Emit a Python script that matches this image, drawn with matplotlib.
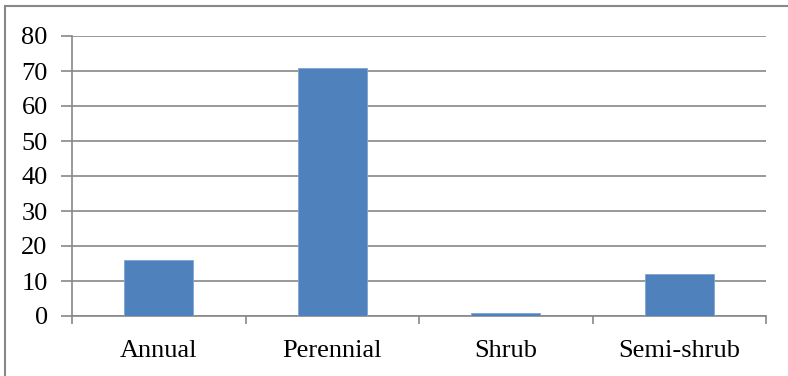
import numpy as np
import matplotlib.pyplot as plt
from matplotlib.patches import Rectangle

categories = ['Annual', 'Perennial', 'Shrub', 'Semi-shrub']
values = [16, 71, 1, 12]
y_ticks = [0, 10, 20, 30, 40, 50, 60, 70, 80]

line_color = '#888888'
bar_color = '#4F81BD'

plt.rcParams['font.family'] = ['Liberation Serif', 'DejaVu Serif']

fig = plt.figure(figsize=(7.88, 3.76), dpi=100)
ax = fig.add_axes([72 / 788, 60 / 376, 694 / 788, 280 / 376])

# chart area border (only top and left visible in the crop)
fig.patches.append(Rectangle((5 / 788, -0.5), 2.0, 0.5 + 370 / 376,
                             transform=fig.transFigure, fill=False,
                             edgecolor=line_color, linewidth=1.5))

x = np.arange(len(categories))
ax.bar(x, values, width=0.4, color=bar_color, edgecolor='#7FA3D3',
       linewidth=0.6, zorder=3)

ax.set_xlim(-0.5, len(categories) - 0.5)
ax.set_ylim(0, 80)
ax.set_yticks(y_ticks)
ax.set_yticklabels([str(v) for v in y_ticks])
ax.yaxis.grid(True, color=line_color, linewidth=1.2, zorder=0)

ax.set_xticks(np.arange(len(categories) + 1) - 0.5)
ax.set_xticklabels([])
ax.set_xticks(x, minor=True)
ax.set_xticklabels(categories, minor=True)
ax.tick_params(axis='x', which='minor', length=0, pad=17, labelsize=19)
ax.tick_params(axis='x', which='major', length=6, width=1.2,
               color=line_color, direction='out')
ax.tick_params(axis='y', length=8, width=1.2, color=line_color, pad=9.5,
               labelsize=19)

for side in ['top', 'right']:
    ax.spines[side].set_visible(False)
for side in ['left', 'bottom']:
    ax.spines[side].set_color(line_color)
    ax.spines[side].set_linewidth(1.2)

fig.savefig('out.png', dpi=100, facecolor='white')
